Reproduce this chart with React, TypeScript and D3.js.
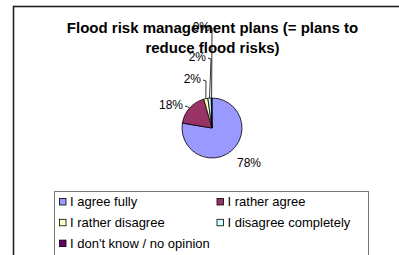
import React, { useEffect, useRef } from 'react';
import * as d3 from 'd3';

const categories = [
    'I agree fully',
    'I rather agree',
    'I rather disagree',
    'I disagree completely',
    "I don't know / no opinion",
];
const shares = [77.6, 18.0, 2.2, 1.8, 0.4];
const sliceColors = ['#9999FF', '#993366', '#FFFFCC', '#CCFFFF', '#660066'];
const titleLines = ['Flood risk management plans (= plans to', 'reduce flood risks)'];

// where excel pushed each data label (relative to pie centre)
const labelSpots = [
    { dx: 37, dy: 39, anchor: 'middle', leader: false },
    { dx: -29, dy: -19, anchor: 'end', leader: true },
    { dx: -11, dy: -45, anchor: 'end', leader: true },
    { dx: -6, dy: -67, anchor: 'end', leader: true },
    { dx: -2, dy: -97, anchor: 'end', leader: true },
];

const App: React.FC = () => {
    const svgRef = useRef<SVGSVGElement>(null);

    useEffect(() => {
        if (!svgRef.current) return;
        const width = 399;
        const height = 255;
        const svg = d3.select(svgRef.current).attr('width', width).attr('height', height);
        svg.selectAll('*').remove();

        svg.append('rect').attr('width', width).attr('height', height).attr('fill', '#fff');

        // chart area frame (runs off the picture right and bottom)
        svg.append('rect')
            .attr('x', 13.5).attr('y', 6.5)
            .attr('width', 420).attr('height', 280)
            .attr('fill', 'none')
            .attr('stroke', '#222')
            .attr('stroke-width', 1.6);

        const font = 'Liberation Sans, Arial, sans-serif';

        const cx = 212;
        const cy = 128;
        const r = 30;

        const pie = d3.pie<number>().sort(null).value(d => d);
        const arcs = pie(shares);
        const arc = d3.arc<d3.PieArcDatum<number>>().innerRadius(0).outerRadius(r);

        // title (drawn first, labels sit on top of it like in excel)
        svg.append('text')
            .attr('text-anchor', 'middle')
            .attr('font-family', font)
            .attr('font-weight', 'bold')
            .attr('font-size', '15px')
            .attr('fill', '#000')
            .selectAll('tspan')
            .data(titleLines)
            .enter()
            .append('tspan')
            .attr('x', 212.5)
            .attr('y', (_, i) => 33 + i * 19.5)
            .text(d => d);

        const pg = svg.append('g').attr('transform', `translate(${cx},${cy})`);
        pg.selectAll('path.slice')
            .data(arcs)
            .enter()
            .append('path')
            .attr('class', 'slice')
            .attr('d', arc)
            .attr('fill', (_, i) => sliceColors[i])
            .attr('stroke', '#000')
            .attr('stroke-width', 0.8)
            .attr('stroke-linejoin', 'round');

        // leader lines
        const total = d3.sum(shares);
        arcs.forEach((a, i) => {
            const spot = labelSpots[i];
            if (!spot.leader) return;
            const mid = (a.startAngle + a.endAngle) / 2;
            const ex = Math.sin(mid) * r;
            const ey = -Math.cos(mid) * r;
            const sx = spot.dx + 2;
            const sy = spot.dy - 3;
            const kx = ex > sx ? sx + 3 : sx;
            pg.append('path')
                .attr('d', `M${sx},${sy} L${kx},${sy + 1} L${ex},${ey}`)
                .attr('fill', 'none')
                .attr('stroke', '#000')
                .attr('stroke-width', 0.8);
        });

        pg.selectAll('text.lbl')
            .data(arcs)
            .enter()
            .append('text')
            .attr('class', 'lbl')
            .attr('x', (_, i) => labelSpots[i].dx)
            .attr('y', (_, i) => labelSpots[i].dy)
            .attr('text-anchor', (_, i) => labelSpots[i].anchor)
            .attr('font-family', font)
            .attr('font-size', '12px')
            .attr('fill', '#000')
            .text(d => `${Math.round((d.value / total) * 100)}%`);

        // legend
        const lg = svg.append('g');
        lg.append('rect')
            .attr('x', 54.5).attr('y', 191.5)
            .attr('width', 314).attr('height', 90)
            .attr('fill', '#fff')
            .attr('stroke', '#777')
            .attr('stroke-width', 1);

        const items = lg.selectAll('g.item')
            .data(categories)
            .enter()
            .append('g')
            .attr('class', 'item')
            .attr('transform', (_, i) => `translate(${i % 2 === 0 ? 59.5 : 217}, ${198.5 + Math.floor(i / 2) * 20.8})`);

        items.append('rect')
            .attr('width', 6.5).attr('height', 6.5)
            .attr('fill', (_, i) => sliceColors[i])
            .attr('stroke', '#000')
            .attr('stroke-width', 0.8);

        items.append('text')
            .attr('x', 10.5)
            .attr('y', 7.8)
            .attr('font-family', font)
            .attr('font-size', '13px')
            .attr('fill', '#000')
            .text(d => d);
    }, []);

    return (
        <div style={{ position: 'absolute', left: 0, top: 0 }}>
            <svg ref={svgRef} style={{ display: 'block' }} />
        </div>
    );
};

export default App;
